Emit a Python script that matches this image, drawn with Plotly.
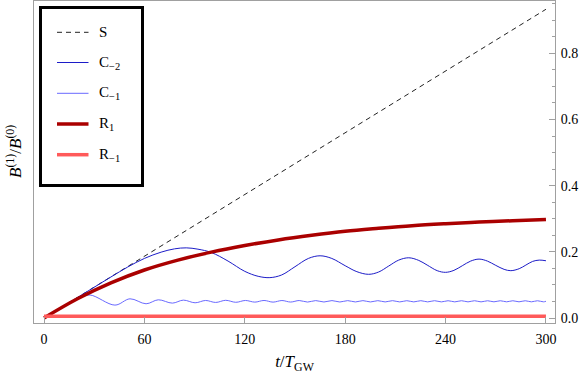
import plotly.graph_objects as go

# ---------------- data ----------------
s_t = [0, 300]
s_v = [0.0, 0.933]

c2_t = [0, 10, 20, 30, 40, 50, 60, 70, 78, 85, 92, 100, 110, 120, 128, 135, 142, 150,
        158, 165, 172, 180, 187, 194, 200, 206, 212, 218, 224, 229, 235, 240, 245, 250,
        255, 260, 265, 270, 275, 279, 284, 288, 292, 296, 300]
c2_v = [0.0, 0.031, 0.062, 0.093, 0.124, 0.154, 0.180, 0.199, 0.209, 0.212, 0.208, 0.198,
        0.172, 0.141, 0.126, 0.122, 0.130, 0.155, 0.180, 0.188, 0.180, 0.158, 0.140, 0.132,
        0.139, 0.157, 0.175, 0.182, 0.174, 0.160, 0.143, 0.138, 0.144, 0.158, 0.172, 0.178,
        0.172, 0.159, 0.147, 0.143, 0.149, 0.160, 0.171, 0.175, 0.173]

c1_t = [0, 10, 20, 27.5, 42.4, 51.4, 61.0, 68.3, 76.7, 83.3, 90.3, 96.6, 102.6, 108.6,
        114.6, 120.4, 126.0, 131.5, 136.9, 142.2, 147.4, 152.5, 157.5, 162.4, 167.3,
        172.1, 176.8, 181.5, 186.1, 190.6, 195.1, 199.5, 203.9, 208.3, 212.6, 216.8,
        221.0, 225.2, 229.3, 233.4, 237.5, 241.5, 245.5, 249.5, 253.4, 257.3, 261.2,
        265.1, 268.9, 272.7, 276.5, 280.2, 283.9, 287.6, 291.3, 294.9, 298.5, 300]
c1_v = [0.0, 0.031, 0.060, 0.0695, 0.039, 0.058, 0.043, 0.055, 0.045, 0.054, 0.046, 0.053,
        0.047, 0.0535, 0.0475, 0.053, 0.048, 0.053, 0.048, 0.0528, 0.0482, 0.0528, 0.0482,
        0.0526, 0.0484, 0.0526, 0.0484, 0.0525, 0.0485, 0.0525, 0.0485, 0.0524, 0.0486,
        0.0524, 0.0486, 0.0523, 0.0487, 0.0523, 0.0487, 0.0523, 0.0487, 0.0522, 0.0488,
        0.0522, 0.0488, 0.0522, 0.0488, 0.0521, 0.0489, 0.0521, 0.0489, 0.0521, 0.0489,
        0.0521, 0.0489, 0.0521, 0.0489, 0.0505]

r1_t = [0, 20, 40, 60, 80, 100, 120, 140, 160, 180, 200, 220, 240, 260, 280, 300]
r1_v = [0.0, 0.058, 0.106, 0.145, 0.175, 0.199, 0.219, 0.236, 0.250, 0.262, 0.271,
        0.279, 0.285, 0.290, 0.294, 0.298]

rm1_t = [0, 300]
rm1_v = [0.005, 0.005]

x_ticks = [0, 60, 120, 180, 240, 300]
y_ticks = [0.0, 0.2, 0.4, 0.6, 0.8]

names = ["S", "C<sub>\u22122</sub>", "C<sub>\u22121</sub>", "R<sub>1</sub>", "R<sub>\u22121</sub>"]
colors = ["#222222", "#1c1cc8", "#6a6aff", "#aa0000", "#ff5a5a"]
widths = [1, 1, 1, 3.5, 3.5]
dashes = ["5px,4px", "solid", "solid", "solid", "solid"]
shapes = ["linear", "spline", "spline", "spline", "linear"]

# ---------------- figure ----------------
W, H = 581, 382
L, R, T, B = 34, 26, 1, 59
pw, ph = W - L - R, H - T - B

def px_x(p):
    return (p - L) / pw

def px_y(p):
    return 1 - (p - T) / ph

fig = go.Figure()
series = [(s_t, s_v), (c2_t, c2_v), (c1_t, c1_v), (r1_t, r1_v), (rm1_t, rm1_v)]
for (tt, vv), nm, col, w, d, sh in zip(series, names, colors, widths, dashes, shapes):
    fig.add_trace(go.Scatter(x=tt, y=vv, mode="lines", name=nm, showlegend=False,
                             hoverinfo="skip",
                             line=dict(color=col, width=w, dash=d, shape=sh)))

frame = "#a0a0a0"
font = "Liberation Serif"

fig.update_layout(
    width=W, height=H,
    margin=dict(l=L, r=R, t=T, b=B),
    paper_bgcolor="white", plot_bgcolor="white",
    font=dict(family=font, size=13, color="black"),
    xaxis=dict(range=[-5.98, 305.4], tickvals=x_ticks, ticktext=[str(v) for v in x_ticks],
               ticks="inside", ticklen=6, tickcolor=frame, showline=True, linecolor=frame,
               linewidth=1, mirror=True, showgrid=False, zeroline=False,
               tickfont=dict(family=font, size=14, color="black"), ticklabelstandoff=3,
               title=dict(text="<i>t</i>/<i>T</i><sub>GW</sub>",
                          font=dict(family=font, size=17, color="black"), standoff=9)),
    yaxis=dict(range=[-0.0151, 0.958], side="right", tickvals=y_ticks,
               ticktext=["%.1f" % v for v in y_ticks],
               ticks="inside", ticklen=6, tickcolor=frame, showline=True, linecolor=frame,
               linewidth=1, mirror=True, showgrid=False, zeroline=False,
               tickfont=dict(family=font, size=14, color="black"), ticklabelstandoff=2,
               minor=dict(dtick=0.05, tick0=0, ticks="inside", ticklen=3, tickcolor=frame,
                          showgrid=False)),
)

# y-axis title on the left
fig.add_annotation(xref="paper", yref="paper", x=px_x(14), y=px_y(152),
                   text="<i>B</i><sup>(1)</sup>/<i>B</i><sup>(0)</sup>", textangle=-90,
                   showarrow=False, xanchor="center", yanchor="middle",
                   font=dict(family=font, size=17, color="black"))

# legend box
fig.add_shape(type="rect", xref="paper", yref="paper",
              x0=px_x(40.5), x1=px_x(142.5), y0=px_y(185.5), y1=px_y(7.5),
              line=dict(color="black", width=3), fillcolor="white", layer="above")
ys = [32.3, 62.5, 93.3, 124, 154.7]
for yy, nm, col, w, d in zip(ys, names, colors, widths, dashes):
    fig.add_shape(type="line", xref="paper", yref="paper", x0=px_x(57), x1=px_x(88.5),
                  y0=px_y(yy), y1=px_y(yy), line=dict(color=col, width=w, dash=d), layer="above")
    fig.add_annotation(xref="paper", yref="paper", x=px_x(97), y=px_y(yy), text=nm,
                       showarrow=False, xanchor="left", yanchor="middle",
                       font=dict(family=font, size=15, color="black"))

fig.write_html("out.html", config={"displayModeBar": False},
               post_script="document.body.style.margin='0';document.body.style.padding='0';")
